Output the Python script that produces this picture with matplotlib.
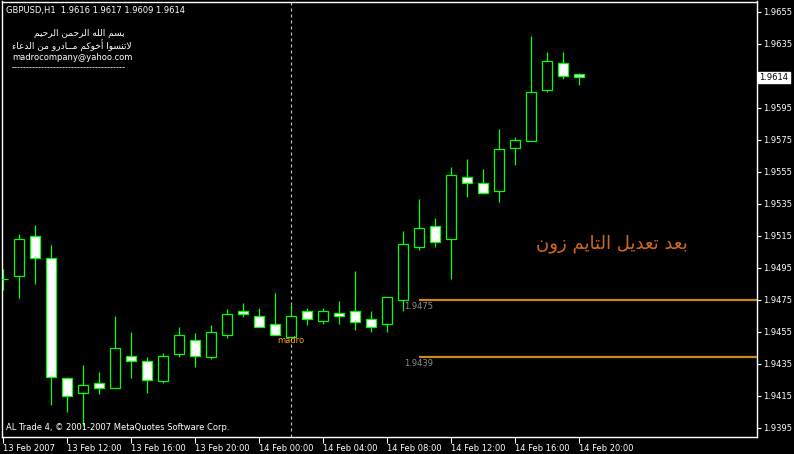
import matplotlib
matplotlib.use("Agg")
import matplotlib.pyplot as plt
from matplotlib.patches import Rectangle
from matplotlib.transforms import blended_transform_factory

W, H = 794, 454

# hourly bars, 13 Feb 08:00 .. 14 Feb 20:00
opens = [1.9488, 1.9490, 1.9515, 1.9501, 1.9426, 1.9417, 1.9423, 1.9420, 1.9440, 1.9437,
         1.9424, 1.9441, 1.9450, 1.9439, 1.9453, 1.9468, 1.9465, 1.9460, 1.9452, 1.9468,
         1.9462, 1.9467, 1.9468, 1.9463, 1.9460, 1.9475, 1.9508, 1.9521, 1.9513, 1.9552,
         1.9548, 1.9543, 1.9570, 1.9574, 1.9606, 1.9623, 1.9616]
highs = [1.9494, 1.9516, 1.9522, 1.9509, 1.9427, 1.9434, 1.9430, 1.9465, 1.9455, 1.9439,
         1.9442, 1.9458, 1.9454, 1.9459, 1.9469, 1.9473, 1.9470, 1.9479, 1.9472, 1.9470,
         1.9470, 1.9474, 1.9493, 1.9468, 1.9477, 1.9518, 1.9538, 1.9526, 1.9558, 1.9563,
         1.9557, 1.9582, 1.9577, 1.9640, 1.9630, 1.9630, 1.9617]
lows = [1.9481, 1.9476, 1.9485, 1.9409, 1.9405, 1.9396, 1.9416, 1.9420, 1.9426, 1.9417,
        1.9423, 1.9439, 1.9433, 1.9438, 1.9451, 1.9464, 1.9458, 1.9453, 1.9452, 1.9459,
        1.9460, 1.9460, 1.9456, 1.9455, 1.9455, 1.9468, 1.9506, 1.9508, 1.9488, 1.9539,
        1.9541, 1.9536, 1.9559, 1.9574, 1.9605, 1.9613, 1.9609]
closes = [1.9488, 1.9513, 1.9501, 1.9427, 1.9415, 1.9422, 1.9420, 1.9445, 1.9437, 1.9425,
          1.9440, 1.9453, 1.9440, 1.9455, 1.9466, 1.9466, 1.9458, 1.9453, 1.9465, 1.9463,
          1.9468, 1.9465, 1.9461, 1.9458, 1.9477, 1.9510, 1.9520, 1.9511, 1.9553, 1.9548,
          1.9542, 1.9569, 1.9575, 1.9605, 1.9624, 1.9615, 1.9614]

time_ticks = [0, 4, 8, 12, 16, 20, 24, 28, 32, 36]
time_labels = ["13 Feb 2007", "13 Feb 12:00", "13 Feb 16:00", "13 Feb 20:00", "14 Feb 00:00",
               "14 Feb 04:00", "14 Feb 08:00", "14 Feb 12:00", "14 Feb 16:00", "14 Feb 20:00"]
price_ticks = [1.9395, 1.9415, 1.9435, 1.9455, 1.9475, 1.9495, 1.9515, 1.9535, 1.9555,
               1.9575, 1.9595, 1.9635, 1.9655]
last_price = 1.9614

levels = [1.9475, 1.9439]
level_start = 26
vline_bar = 18

header = "GBPUSD,H1  1.9616 1.9617 1.9609 1.9614"
note_lines = ["بسم الله الرحمن الرحيم", "لاتنسوا أخوكم مــادرو من الدعاء"]
email = "madrocompany@yahoo.com"
copyright_txt = "AL Trade 4, © 2001-2007 MetaQuotes Software Corp."
big_note = "بعد تعديل التايم زون"

# --- tiny arabic shaper (no raqm in matplotlib): contextual forms + visual order
FORMS = {
    "\u0621": (0xFE80, None, None, None),
    "\u0623": (0xFE83, 0xFE84, None, None),
    "\u0627": (0xFE8D, 0xFE8E, None, None),
    "\u0628": (0xFE8F, 0xFE90, 0xFE91, 0xFE92),
    "\u062A": (0xFE95, 0xFE96, 0xFE97, 0xFE98),
    "\u062D": (0xFEA1, 0xFEA2, 0xFEA3, 0xFEA4),
    "\u062E": (0xFEA5, 0xFEA6, 0xFEA7, 0xFEA8),
    "\u062F": (0xFEA9, 0xFEAA, None, None),
    "\u0631": (0xFEAD, 0xFEAE, None, None),
    "\u0632": (0xFEAF, 0xFEB0, None, None),
    "\u0633": (0xFEB1, 0xFEB2, 0xFEB3, 0xFEB4),
    "\u0639": (0xFEC9, 0xFECA, 0xFECB, 0xFECC),
    "\u0643": (0xFED9, 0xFEDA, 0xFEDB, 0xFEDC),
    "\u0644": (0xFEDD, 0xFEDE, 0xFEDF, 0xFEE0),
    "\u0645": (0xFEE1, 0xFEE2, 0xFEE3, 0xFEE4),
    "\u0646": (0xFEE5, 0xFEE6, 0xFEE7, 0xFEE8),
    "\u0647": (0xFEE9, 0xFEEA, 0xFEEB, 0xFEEC),
    "\u0648": (0xFEED, 0xFEEE, None, None),
    "\u064A": (0xFEF1, 0xFEF2, 0xFEF3, 0xFEF4),
    "\u0640": (0x0640, 0x0640, 0x0640, 0x0640),
    "\u0644\u0627": (0xFEFB, 0xFEFC, None, None),
    "\u0644\u0623": (0xFEF7, 0xFEF8, None, None),
}


def shape(s):
    toks = []
    i = 0
    while i < len(s):
        if s[i] == "\u0644" and i + 1 < len(s) and s[i + 1] in "\u0627\u0623":
            toks.append(s[i:i + 2])
            i += 2
        else:
            toks.append(s[i])
            i += 1
    out = []
    for j, t in enumerate(toks):
        f = FORMS.get(t)
        if f is None:
            out.append(t)
            continue
        prev = FORMS.get(toks[j - 1]) if j > 0 else None
        nxt = FORMS.get(toks[j + 1]) if j + 1 < len(toks) else None
        jp = prev is not None and prev[2] is not None and f[1] is not None
        jn = f[2] is not None and nxt is not None and nxt[1] is not None
        if jp and jn:
            c = f[3]
        elif jp:
            c = f[1]
        elif jn:
            c = f[2]
        else:
            c = f[0]
        out.append(chr(c))
    return "".join(reversed(out))


plt.rcParams["font.family"] = ["DejaVu Sans"]

fig = plt.figure(figsize=(W / 100, H / 100), dpi=100, facecolor="black")
ax = fig.add_axes([2 / W, 17 / H, 754.7 / W, 435.5 / H])
ax.set_facecolor("black")
ax.set_xlim(-0.081, 47.09)
ax.set_ylim(1.93892, 1.96614)

lime = "#00ff00"
body_w = 0.625
for k in range(len(opens)):
    o, h, l, c = opens[k], highs[k], lows[k], closes[k]
    ax.plot([k, k], [l, h], color=lime, lw=0.9, zorder=2, solid_capstyle="butt")
    face = "black" if c > o else "white"
    ax.add_patch(Rectangle((k - body_w / 2, min(o, c)), body_w, abs(c - o),
                           facecolor=face, edgecolor=lime, lw=0.9, zorder=3))

# levels and vertical marker
for lv in levels:
    ax.hlines(lv, level_start, 47.09, color="#c8891a", lw=1.6, zorder=4)
    ax.text(level_start - 0.95, lv - 0.00012, f"{lv:.4f}", color="#8c8c8c",
            fontsize=6, ha="left", va="top", zorder=5)
ax.axvline(vline_bar, color="#c8c8c8", lw=0.8, ls=(0, (2.7, 2.7)), zorder=1)
ax.text(vline_bar, 1.94498, "madro", color="#ffa500", fontsize=6, ha="center", va="center")
ax.text(38.04, 1.95098, shape(big_note), color="#d2691e", fontsize=13,
        ha="center", va="center")

# axes styling
for sp in ax.spines.values():
    sp.set_color("white")
    sp.set_linewidth(1)

ax.yaxis.tick_right()
ax.set_yticks(price_ticks)
ax.set_yticklabels([f"{p:.4f}" for p in price_ticks])
ax.set_xticks(time_ticks)
ax.set_xticklabels(time_labels)
ax.tick_params(axis="both", colors="white", labelsize=6, width=0.8)
ax.tick_params(axis="y", length=3, pad=1.5)
ax.tick_params(axis="x", length=4, pad=1)
for lbl in ax.get_xticklabels():
    lbl.set_horizontalalignment("left")

tr = blended_transform_factory(ax.transAxes, ax.transData)
ax.text(1.0035, last_price, f"{last_price:.4f}", transform=tr, color="black", fontsize=6,
        ha="left", va="center",
        bbox=dict(boxstyle="square,pad=0.15", facecolor="white", edgecolor="white"))


def ftext(x, y, s, **kw):
    fig.text(x / W, 1 - y / H, s, **kw)


ftext(6, 10, header, color="white", fontsize=6, va="center")
ftext(79, 33, shape(note_lines[0]), color="white", fontsize=6.5, va="center", ha="center")
ftext(72, 46, shape(note_lines[1]), color="white", fontsize=6.5, va="center", ha="center")
ftext(12, 57, email, color="white", fontsize=6, va="center")
ftext(12, 68, "-" * 38, color="white", fontsize=6, va="center")
ftext(6, 428, copyright_txt, color="white", fontsize=6, va="center")

fig.savefig("out.png", dpi=100, facecolor="black")
